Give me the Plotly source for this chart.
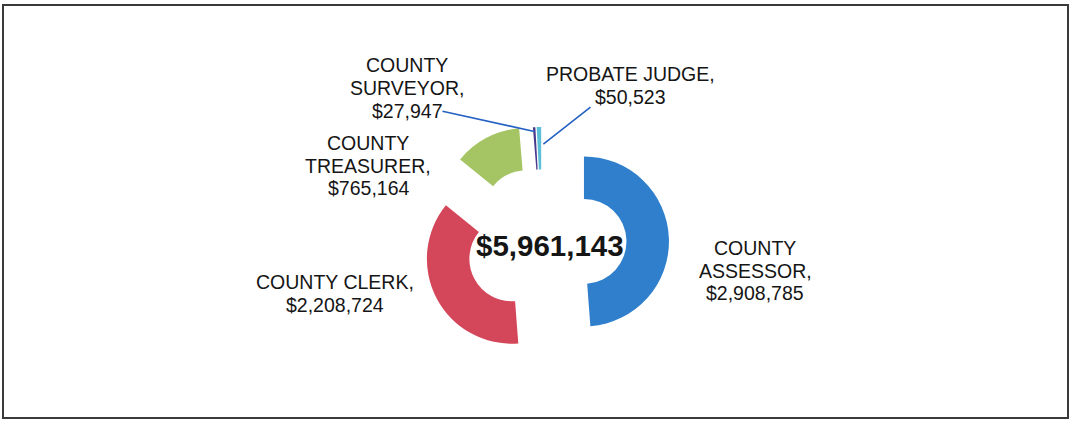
import math
import plotly.graph_objects as go

# ---- data ----
labels = ["COUNTY ASSESSOR", "COUNTY CLERK", "COUNTY TREASURER", "COUNTY SURVEYOR", "PROBATE JUDGE"]
values = [2908785, 2208724, 765164, 27947, 50523]

# ---- style / layout ----
colors = ["#2F7FCC", "#D4465A", "#A5C464", "#4A3A8C", "#5BBFD8"]
pulls = [0.494, 0.40, 0.40, 0.365, 0.365]
wrap_label = [True, False, True, True, False]
# label anchor: centre x, first line y (pixels)
label_pos = [(755, 248), (335, 282), (368, 143), (407, 65.5), (630, 74)]
LINE_GAP = 22.5
FONT = "Liberation Sans, Arial, sans-serif"

W, H = 1072, 421
CX, CY = 542, 243
R = 85
HOLE = 0.5
maxpull = max(pulls)
box = R * (2 + 2 * maxpull)
dom_x = [(CX - 230) / W, (CX + 230) / W]
dom_y = [1 - (CY + box / 2) / H, 1 - (CY - box / 2) / H]


def px(x, y):
    return x / W, 1 - y / H


fig = go.Figure(go.Pie(
    labels=labels,
    values=values,
    hole=HOLE,
    pull=pulls,
    sort=False,
    direction="clockwise",
    rotation=0,
    textinfo="none",
    marker=dict(colors=colors, line=dict(width=0)),
    domain=dict(x=dom_x, y=dom_y),
    showlegend=False,
))

annotations = []
for i, (lab, val) in enumerate(zip(labels, values)):
    words = lab.split(" ")
    if wrap_label[i]:
        lines = [words[0], " ".join(words[1:]) + ","]
    else:
        lines = [lab + ","]
    lines.append("${:,}".format(val))
    x0, y0 = label_pos[i]
    for k, t in enumerate(lines):
        xp, yp = px(x0, y0 + k * LINE_GAP)
        annotations.append(dict(
            x=xp, y=yp, xref="paper", yref="paper", text=t, showarrow=False,
            xanchor="center", yanchor="middle",
            font=dict(family=FONT, size=19.5, color="#151515"),
        ))

# total in the centre
total = sum(values)
xp, yp = px(550, 246)
annotations.append(dict(
    x=xp, y=yp, xref="paper", yref="paper", text="<b>${:,}</b>".format(total),
    showarrow=False, xanchor="center", yanchor="middle",
    font=dict(family=FONT, size=29.5, color="#151515"),
))

# leader lines for the thin slices
tot = float(total)
cum = 0.0
mids = []
for v in values:
    mids.append((cum + v / 2) / tot * 360.0)
    cum += v


def slice_point(i, rad_frac, dx=0.0):
    th = math.radians(mids[i])
    d = pulls[i] * R
    sx = CX + d * math.sin(th)
    sy = CY - d * math.cos(th)
    return sx + rad_frac * R * math.sin(th) + dx, sy - rad_frac * R * math.cos(th)


leaders = [(3, 0.95, 0.0, (441, 111)), (4, 0.80, 4.0, (592, 106))]
for i, rf, dx, (tx, ty) in leaders:
    hx, hy = slice_point(i, rf, dx)
    xp, yp = px(hx, hy)
    annotations.append(dict(
        x=xp, y=yp, xref="paper", yref="paper", text="",
        showarrow=True, arrowhead=0, arrowwidth=1.6, arrowcolor="#2461C2",
        standoff=0, ax=tx - hx, ay=ty - hy,
    ))

bx0, by0 = px(3, 418)
bx1, by1 = px(1068, 5)
fig.update_layout(
    width=W, height=H,
    margin=dict(l=0, r=0, t=0, b=0),
    paper_bgcolor="white",
    plot_bgcolor="white",
    annotations=annotations,
    shapes=[dict(type="rect", xref="paper", yref="paper", x0=bx0, y0=by0, x1=bx1, y1=by1,
                 line=dict(color="#3a3a3a", width=2))],
)

fig.write_html(
    "out.html",
    config={"displayModeBar": False},
    post_script="document.body.style.margin='0';document.body.style.overflow='hidden';",
)
